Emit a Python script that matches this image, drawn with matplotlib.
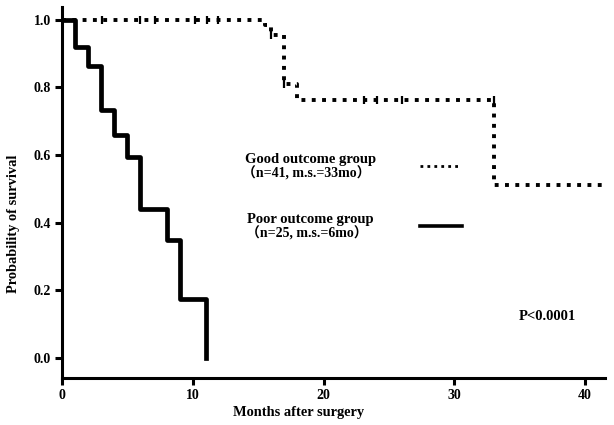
import matplotlib
matplotlib.use("Agg")
import matplotlib.pyplot as plt

# Kaplan-Meier curves
good_months = [0, 15.5, 16, 17, 18, 33, 42]
good_surv = [1.0, 0.985, 0.955, 0.81, 0.763, 0.51, 0.51]
good_censor_months = [3.05, 5.95, 7.1, 10.15, 11.07, 11.9, 16.0, 17.0, 23.1, 24.1, 26.0, 33.0]
good_censor_surv = [1.0, 1.0, 1.0, 1.0, 1.0, 1.0, 0.955, 0.81, 0.763, 0.763, 0.763, 0.763]

poor_months = [0, 1, 2, 3, 4, 5, 6, 8, 9, 11]
poor_surv = [1.0, 0.92, 0.864, 0.734, 0.66, 0.595, 0.44, 0.35, 0.175, 0.0]

x_ticks = [0, 10, 20, 30, 40]
y_ticks = [0.0, 0.2, 0.4, 0.6, 0.8, 1.0]
y_tick_labels = ["0.0", "0.2", "0.4", "0.6", "0.8", "1.0"]

serif = ["Liberation Serif", "Noto Sans CJK JP", "DejaVu Serif"]
plt.rcParams["font.family"] = serif

fig = plt.figure(figsize=(6.14, 4.25), dpi=100)
ax = fig.add_axes([0.101, 0.111, 0.884, 0.8725])

dotted = (0, (1.0, 1.65))
ax.plot(good_months, good_surv, drawstyle="steps-post", color="black",
        lw=2.8, linestyle=dotted, dash_capstyle="butt")
ax.plot(good_censor_months, good_censor_surv, linestyle="none", marker="|",
        color="black", ms=6, mew=1.6)
ax.plot(poor_months, poor_surv, drawstyle="steps-post", color="black", lw=3.4)

ax.set_xlim(0, 41.5)
ax.set_ylim(-0.059, 1.038)
ax.set_xticks(x_ticks)
ax.set_yticks(y_ticks)
ax.set_yticklabels(y_tick_labels)

for side in ("top", "right"):
    ax.spines[side].set_visible(False)
for side in ("left", "bottom"):
    ax.spines[side].set_linewidth(2.2)
ax.tick_params(axis="both", direction="out", length=5, width=2.2,
               labelsize=10, pad=3)
for lab in ax.get_xticklabels() + ax.get_yticklabels():
    lab.set_fontweight("bold")

ax.set_xlabel("Months after surgery", fontsize=10.4, fontweight="bold")
ax.xaxis.set_label_coords(0.435, -0.076)
ax.set_ylabel("Probability of survival", fontsize=10.4, fontweight="bold")
ax.yaxis.set_label_coords(-0.078, 0.415)

# legend-like annotations
ax.text(19.0, 0.586, "Good outcome group", ha="center", va="center",
        fontsize=10.5, fontweight="bold")
ax.text(18.7, 0.547, "（n=41, m.s.=33mo）", ha="center", va="center",
        fontsize=10, fontweight="bold", family=serif)
ax.plot([27.4, 30.4], [0.568, 0.568], color="black", lw=2.0,
        linestyle=(0, (1.0, 1.5)), dash_capstyle="butt")

ax.text(19.0, 0.408, "Poor outcome group", ha="center", va="center",
        fontsize=10.5, fontweight="bold")
ax.text(18.7, 0.37, "（n=25, m.s.=6mo）", ha="center", va="center",
        fontsize=10, fontweight="bold", family=serif)
ax.plot([27.4, 30.6], [0.391, 0.391], color="black", lw=2.6)

ax.text(37.1, 0.122, "P<0.0001", ha="center", va="center",
        fontsize=10.5, fontweight="bold")

fig.savefig("out.png", dpi=100)
